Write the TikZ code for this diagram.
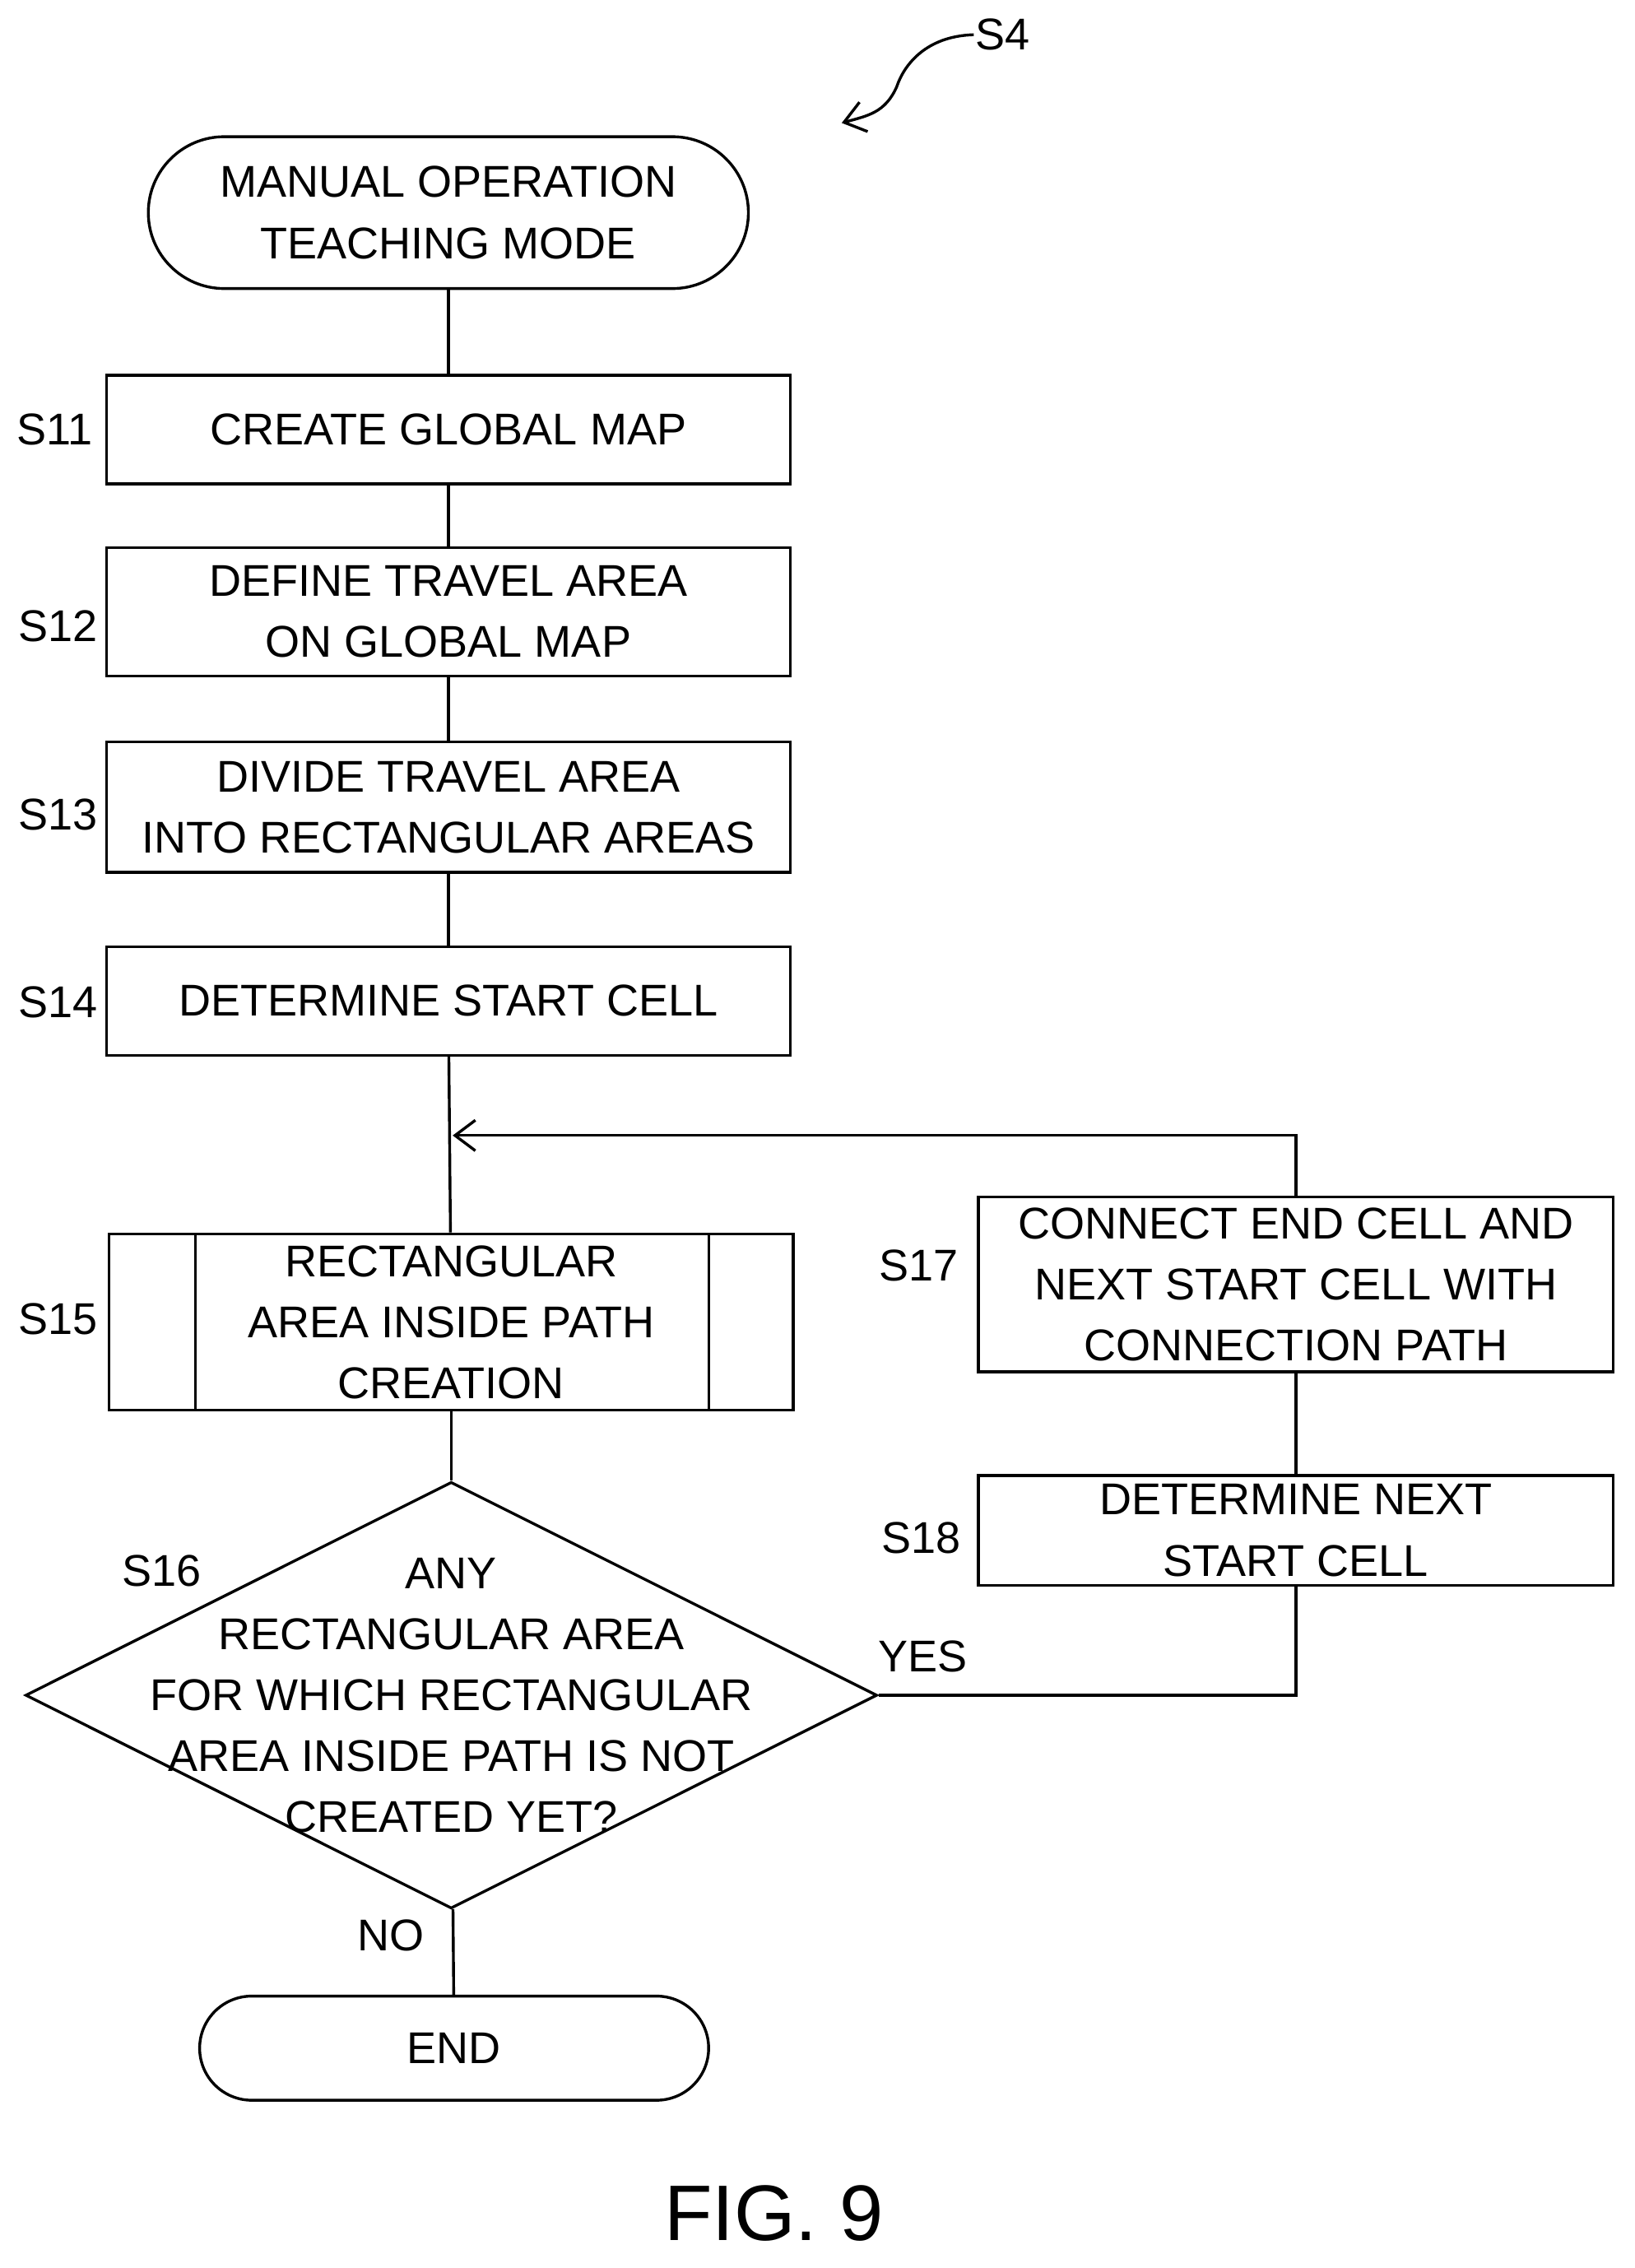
\documentclass[tikz,border=0pt]{standalone}
\usepackage{fontspec}
\setmainfont{Liberation Sans}
\usetikzlibrary{shapes.geometric,arrows.meta}

\begin{document}
\begin{tikzpicture}[x=0.02cm, y=-0.02cm, line width=1.1pt,
  every node/.style={font=\fontsize{17.5}{24}\selectfont, align=center},
  term/.style={draw, rounded corners=1.05cm, inner sep=0pt},
  box/.style={draw, inner sep=0pt, minimum width=9.46cm},
  lab/.style={inner sep=0pt}]
  \useasboundingbox (0,0) rectangle (1130,1568);

  \node (start) [term, minimum width=8.3cm, minimum height=2.1cm] at (310,147) {MANUAL OPERATION\\TEACHING MODE};
  \node (s11) [box, minimum height=1.5cm] at (310,297) {CREATE GLOBAL MAP};
  \node (s12) [box, minimum height=1.78cm] at (310,423) {DEFINE TRAVEL AREA\\ON GLOBAL MAP};
  \node (s13) [box, minimum height=1.8cm] at (310,558) {DIVIDE TRAVEL AREA\\INTO RECTANGULAR AREAS};
  \node (s14) [box, minimum height=1.5cm] at (310,692) {DETERMINE START CELL};
  \node (s15) [box, minimum height=2.44cm] at (312,914) {RECTANGULAR\\AREA INSIDE PATH\\CREATION};
  \draw (135,853) -- (135,975);
  \draw (490,853) -- (490,975);
  \node (s16) [draw, diamond, inner sep=0pt, minimum width=11.78cm, minimum height=5.9cm,
    label={center:{ANY\\RECTANGULAR AREA\\FOR WHICH RECTANGULAR\\AREA INSIDE PATH IS NOT\\CREATED YET?}}] at (312,1172) {};
  \node (end) [term, rounded corners=0.72cm, minimum width=7.04cm, minimum height=1.44cm] at (314,1416) {END};
  \node (s17) [box, minimum width=8.78cm, minimum height=2.42cm] at (896,888) {CONNECT END CELL AND\\NEXT START CELL WITH\\CONNECTION PATH};
  \node (s18) [box, minimum width=8.78cm, minimum height=1.52cm] at (896,1058) {DETERMINE NEXT\\START CELL};
  \coordinate (join) at (313,785);

  % step labels
  \node [lab] at (38,297) {S11};
  \node [lab] at (40,433) {S12};
  \node [lab] at (40,563) {S13};
  \node [lab] at (40,693) {S14};
  \node [lab] at (40,912) {S15};
  \node [lab] at (112,1086) {S16};
  \node [lab] at (635,875) {S17};
  \node [lab] at (637,1063) {S18};
  \node [lab] at (638,1145) {YES};
  \node [lab] at (270,1338) {NO};
  \node [lab] (s4) at (693,24) {S4};
  \node [lab, font=\fontsize{31}{36}\selectfont] (fig) at (535,1530) {FIG. 9};

  % connectors
  \draw (start) -- (s11);
  \draw (s11) -- (s12);
  \draw (s12) -- (s13);
  \draw (s13) -- (s14);
  \draw (s14) -- (s15);
  \draw (s15) -- (s16);
  \draw (s16) -- (end);
  \draw (s16.east) -| (s18.south);
  \draw (s18) -- (s17);
  \draw[-{Straight Barb[length=8pt,width=12pt]}] (s17.north) |- (join);
  \draw[-{Straight Barb[length=8pt,width=12pt]}] (s4.west) .. controls (640,25) and (625,45) .. (620,60)
    .. controls (612,78) and (600,80) .. (582,85);
\end{tikzpicture}
\end{document}
